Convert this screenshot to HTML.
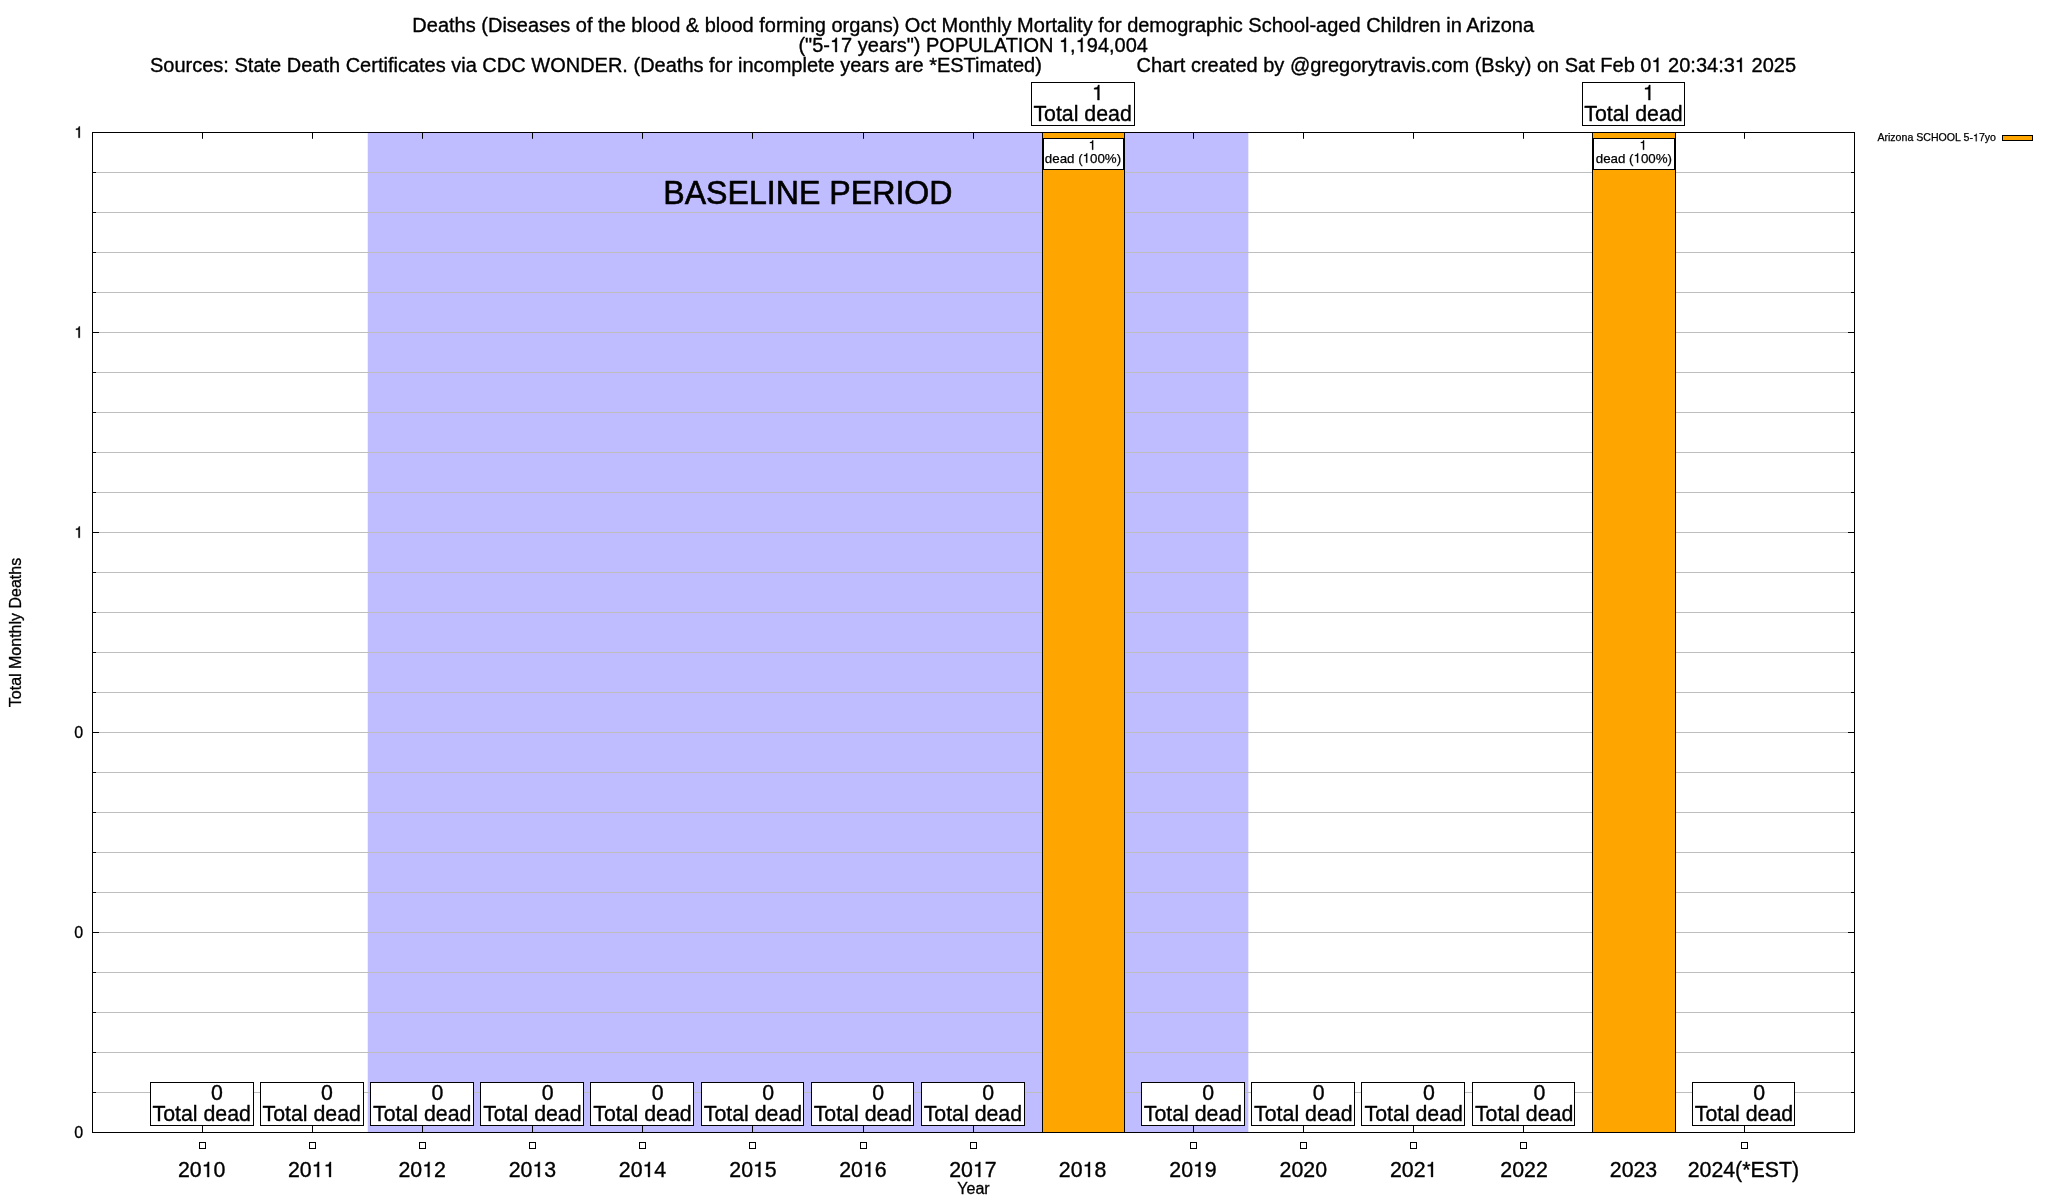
<!DOCTYPE html>
<html><head><meta charset="utf-8"><title>chart</title>
<style>html,body{margin:0;padding:0;background:#fff;}body{width:2048px;height:1200px;overflow:hidden;}svg{display:block;will-change:transform;font-family:"Liberation Sans",sans-serif;fill:#000;}text{stroke:#000;stroke-linejoin:round;white-space:pre}.t{font-size:20px;stroke-width:0.35px}.k{font-size:21.33px;stroke-width:0.35px}.b{font-size:21.33px;stroke-width:0.35px}.i{font-size:13.33px;stroke-width:0.25px}.l{font-size:10.6px;stroke-width:0.25px}.a{font-size:16px;stroke-width:0.3px}.bp{font-size:32.15px;stroke-width:0.6px}.ln{stroke:#000;stroke-width:1;fill:none}.g{stroke:#bebebe;stroke-width:1;fill:none}.bx{fill:#fff;stroke:#000;stroke-width:1}</style></head><body>
<svg width="2048" height="1200" viewBox="0 0 2048 1200">
<defs><path id="one" stroke="#000" stroke-linejoin="round" d="M347 0H259V-505H102V-568C238 -585 258 -600 289 -709H347Z"/></defs>
<rect x="0" y="0" width="2048" height="1200" fill="#fff"/>
<rect x="367.75" y="132.5" width="880.60" height="1000.0" fill="#bfbdff"/>
<path class="g" d="M92.5 172.5H1854.5M92.5 212.5H1854.5M92.5 252.5H1854.5M92.5 292.5H1854.5M92.5 332.5H1854.5M92.5 372.5H1854.5M92.5 412.5H1854.5M92.5 452.5H1854.5M92.5 492.5H1854.5M92.5 532.5H1854.5M92.5 572.5H1854.5M92.5 612.5H1854.5M92.5 652.5H1854.5M92.5 692.5H1854.5M92.5 732.5H1854.5M92.5 772.5H1854.5M92.5 812.5H1854.5M92.5 852.5H1854.5M92.5 892.5H1854.5M92.5 932.5H1854.5M92.5 972.5H1854.5M92.5 1012.5H1854.5M92.5 1052.5H1854.5M92.5 1092.5H1854.5"/>
<text class="bp" text-anchor="middle" transform="translate(807.9 203.6) scale(1 1.035)">BASELINE PERIOD</text>
<rect x="1042.5" y="132.5" width="82.0" height="1000.0" fill="#ffa500" stroke="#000" stroke-width="1"/>
<rect x="1592.5" y="132.5" width="83.0" height="1000.0" fill="#ffa500" stroke="#000" stroke-width="1"/>
<path class="ln" d="M202.5 1132.5v-7M202.5 132.5v6.3M312.5 1132.5v-7M312.5 132.5v6.3M422.5 1132.5v-7M422.5 132.5v6.3M532.5 1132.5v-7M532.5 132.5v6.3M642.5 1132.5v-7M642.5 132.5v6.3M752.5 1132.5v-7M752.5 132.5v6.3M863.5 1132.5v-7M863.5 132.5v6.3M973.5 1132.5v-7M973.5 132.5v6.3M1193.5 1132.5v-7M1193.5 132.5v6.3M1303.5 1132.5v-7M1303.5 132.5v6.3M1413.5 1132.5v-7M1413.5 132.5v6.3M1523.5 1132.5v-7M1523.5 132.5v6.3M1744.5 1132.5v-7M1744.5 132.5v6.3M92.5 132.5h6.5M1854.5 132.5h-6.5M92.5 172.5h3.5M1854.5 172.5h-3.5M92.5 212.5h3.5M1854.5 212.5h-3.5M92.5 252.5h3.5M1854.5 252.5h-3.5M92.5 292.5h3.5M1854.5 292.5h-3.5M92.5 332.5h6.5M1854.5 332.5h-6.5M92.5 372.5h3.5M1854.5 372.5h-3.5M92.5 412.5h3.5M1854.5 412.5h-3.5M92.5 452.5h3.5M1854.5 452.5h-3.5M92.5 492.5h3.5M1854.5 492.5h-3.5M92.5 532.5h6.5M1854.5 532.5h-6.5M92.5 572.5h3.5M1854.5 572.5h-3.5M92.5 612.5h3.5M1854.5 612.5h-3.5M92.5 652.5h3.5M1854.5 652.5h-3.5M92.5 692.5h3.5M1854.5 692.5h-3.5M92.5 732.5h6.5M1854.5 732.5h-6.5M92.5 772.5h3.5M1854.5 772.5h-3.5M92.5 812.5h3.5M1854.5 812.5h-3.5M92.5 852.5h3.5M1854.5 852.5h-3.5M92.5 892.5h3.5M1854.5 892.5h-3.5M92.5 932.5h6.5M1854.5 932.5h-6.5M92.5 972.5h3.5M1854.5 972.5h-3.5M92.5 1012.5h3.5M1854.5 1012.5h-3.5M92.5 1052.5h3.5M1854.5 1052.5h-3.5M92.5 1092.5h3.5M1854.5 1092.5h-3.5M92.5 1132.5h6.5M1854.5 1132.5h-6.5"/>
<rect class="ln" x="92.5" y="132.5" width="1762.0" height="1000.0"/>
<rect class="bx" x="150.5" y="1082.5" width="103" height="43"/>
<text class="b" x="211.07" y="1100.10">0</text>
<text class="b" x="152.48" y="1120.80">Total dead</text>
<rect class="ln" x="199.5" y="1142.5" width="6" height="6"/>
<rect class="bx" x="260.5" y="1082.5" width="103" height="43"/>
<text class="b" x="321.07" y="1100.10">0</text>
<text class="b" x="262.48" y="1120.80">Total dead</text>
<rect class="ln" x="309.5" y="1142.5" width="6" height="6"/>
<rect class="bx" x="370.5" y="1082.5" width="103" height="43"/>
<text class="b" x="431.57" y="1100.10">0</text>
<text class="b" x="372.98" y="1120.80">Total dead</text>
<rect class="ln" x="419.5" y="1142.5" width="6" height="6"/>
<rect class="bx" x="480.5" y="1082.5" width="103" height="43"/>
<text class="b" x="541.77" y="1100.10">0</text>
<text class="b" x="483.18" y="1120.80">Total dead</text>
<rect class="ln" x="529.5" y="1142.5" width="6" height="6"/>
<rect class="bx" x="590.5" y="1082.5" width="103" height="43"/>
<text class="b" x="651.87" y="1100.10">0</text>
<text class="b" x="593.28" y="1120.80">Total dead</text>
<rect class="ln" x="639.5" y="1142.5" width="6" height="6"/>
<rect class="bx" x="701.5" y="1082.5" width="102" height="43"/>
<text class="b" x="762.37" y="1100.10">0</text>
<text class="b" x="703.78" y="1120.80">Total dead</text>
<rect class="ln" x="749.5" y="1142.5" width="6" height="6"/>
<rect class="bx" x="811.5" y="1082.5" width="102" height="43"/>
<text class="b" x="872.27" y="1100.10">0</text>
<text class="b" x="813.68" y="1120.80">Total dead</text>
<rect class="ln" x="860.5" y="1142.5" width="6" height="6"/>
<rect class="bx" x="921.5" y="1082.5" width="103" height="43"/>
<text class="b" x="982.27" y="1100.10">0</text>
<text class="b" x="923.68" y="1120.80">Total dead</text>
<rect class="ln" x="970.5" y="1142.5" width="6" height="6"/>
<rect class="bx" x="1031.5" y="82.5" width="103" height="43"/>
<use href="#one" transform="translate(1091.97 100.10) scale(0.02133)" stroke-width="16.4"/>
<text class="b" x="1033.38" y="120.80">Total dead</text>
<rect class="bx" x="1043.5" y="138.5" width="80.0" height="31"/>
<use href="#one" transform="translate(1088.59 149.80) scale(0.01333)" stroke-width="18.8"/>
<text class="i" x="1044.84" y="162.70">dead (</text>
<use href="#one" transform="translate(1082.63 162.70) scale(0.01333)" stroke-width="18.8"/>
<text class="i" x="1090.05" y="162.70">00%)</text>
<rect class="bx" x="1141.5" y="1082.5" width="103" height="43"/>
<text class="b" x="1202.37" y="1100.10">0</text>
<text class="b" x="1143.78" y="1120.80">Total dead</text>
<rect class="ln" x="1190.5" y="1142.5" width="6" height="6"/>
<rect class="bx" x="1251.5" y="1082.5" width="103" height="43"/>
<text class="b" x="1312.67" y="1100.10">0</text>
<text class="b" x="1254.08" y="1120.80">Total dead</text>
<rect class="ln" x="1300.5" y="1142.5" width="6" height="6"/>
<rect class="bx" x="1361.5" y="1082.5" width="103" height="43"/>
<text class="b" x="1423.07" y="1100.10">0</text>
<text class="b" x="1364.48" y="1120.80">Total dead</text>
<rect class="ln" x="1410.5" y="1142.5" width="6" height="6"/>
<rect class="bx" x="1472.5" y="1082.5" width="102" height="43"/>
<text class="b" x="1533.47" y="1100.10">0</text>
<text class="b" x="1474.88" y="1120.80">Total dead</text>
<rect class="ln" x="1520.5" y="1142.5" width="6" height="6"/>
<rect class="bx" x="1582.5" y="82.5" width="102" height="43"/>
<use href="#one" transform="translate(1642.87 100.10) scale(0.02133)" stroke-width="16.4"/>
<text class="b" x="1584.28" y="120.80">Total dead</text>
<rect class="bx" x="1593.5" y="138.5" width="81.0" height="31"/>
<use href="#one" transform="translate(1639.49 149.80) scale(0.01333)" stroke-width="18.8"/>
<text class="i" x="1595.74" y="162.70">dead (</text>
<use href="#one" transform="translate(1633.53 162.70) scale(0.01333)" stroke-width="18.8"/>
<text class="i" x="1640.95" y="162.70">00%)</text>
<rect class="bx" x="1692.5" y="1082.5" width="102" height="43"/>
<text class="b" x="1753.37" y="1100.10">0</text>
<text class="b" x="1694.78" y="1120.80">Total dead</text>
<rect class="ln" x="1741.5" y="1142.5" width="6" height="6"/>
<text class="k" x="177.97" y="1177.00">20</text>
<use href="#one" transform="translate(201.70 1177.00) scale(0.02133)" stroke-width="16.4"/>
<text class="k" x="213.56" y="1177.00">0</text>
<text class="k" x="287.97" y="1177.00">20</text>
<use href="#one" transform="translate(311.70 1177.00) scale(0.02133)" stroke-width="16.4"/>
<use href="#one" transform="translate(323.56 1177.00) scale(0.02133)" stroke-width="16.4"/>
<text class="k" x="398.47" y="1177.00">20</text>
<use href="#one" transform="translate(422.20 1177.00) scale(0.02133)" stroke-width="16.4"/>
<text class="k" x="434.06" y="1177.00">2</text>
<text class="k" x="508.67" y="1177.00">20</text>
<use href="#one" transform="translate(532.40 1177.00) scale(0.02133)" stroke-width="16.4"/>
<text class="k" x="544.26" y="1177.00">3</text>
<text class="k" x="618.77" y="1177.00">20</text>
<use href="#one" transform="translate(642.50 1177.00) scale(0.02133)" stroke-width="16.4"/>
<text class="k" x="654.36" y="1177.00">4</text>
<text class="k" x="729.27" y="1177.00">20</text>
<use href="#one" transform="translate(753.00 1177.00) scale(0.02133)" stroke-width="16.4"/>
<text class="k" x="764.86" y="1177.00">5</text>
<text class="k" x="839.17" y="1177.00">20</text>
<use href="#one" transform="translate(862.90 1177.00) scale(0.02133)" stroke-width="16.4"/>
<text class="k" x="874.76" y="1177.00">6</text>
<text class="k" x="949.17" y="1177.00">20</text>
<use href="#one" transform="translate(972.90 1177.00) scale(0.02133)" stroke-width="16.4"/>
<text class="k" x="984.76" y="1177.00">7</text>
<text class="k" x="1058.87" y="1177.00">20</text>
<use href="#one" transform="translate(1082.60 1177.00) scale(0.02133)" stroke-width="16.4"/>
<text class="k" x="1094.46" y="1177.00">8</text>
<text class="k" x="1169.27" y="1177.00">20</text>
<use href="#one" transform="translate(1193.00 1177.00) scale(0.02133)" stroke-width="16.4"/>
<text class="k" x="1204.86" y="1177.00">9</text>
<text class="k" x="1279.57" y="1177.00">2020</text>
<text class="k" x="1389.97" y="1177.00">202</text>
<use href="#one" transform="translate(1425.56 1177.00) scale(0.02133)" stroke-width="16.4"/>
<text class="k" x="1500.37" y="1177.00">2022</text>
<text class="k" x="1609.77" y="1177.00">2023</text>
<text class="k" x="1687.68" y="1177.00">2024(*EST)</text>
<use href="#one" transform="translate(74.30 137.80) scale(0.01600)" stroke-width="18.8"/>
<use href="#one" transform="translate(74.30 337.80) scale(0.01600)" stroke-width="18.8"/>
<use href="#one" transform="translate(74.30 537.80) scale(0.01600)" stroke-width="18.8"/>
<text class="a" x="74.30" y="737.80">0</text>
<text class="a" x="74.30" y="937.80">0</text>
<text class="a" x="74.30" y="1137.80">0</text>
<text class="a" x="957.34" y="1194.00">Year</text>
<text class="a" text-anchor="middle" transform="translate(21.3 632.5) rotate(-90)">Total Monthly Deaths</text>
<text class="t" x="412.36" y="32.00">Deaths (Diseases of the blood &amp; blood forming organs) Oct Monthly Mortality for demographic School-aged Children in Arizona</text>
<text class="t" x="798.43" y="52.00">(&quot;5-</text>
<use href="#one" transform="translate(829.98 52.00) scale(0.02000)" stroke-width="17.5"/>
<text class="t" x="841.10" y="52.00">7 years&quot;) POPULATION</text>
<use href="#one" transform="translate(1058.99 52.00) scale(0.02000)" stroke-width="17.5"/>
<text class="t" x="1070.11" y="52.00">,</text>
<use href="#one" transform="translate(1075.67 52.00) scale(0.02000)" stroke-width="17.5"/>
<text class="t" x="1086.80" y="52.00">94,004</text>
<text class="t" x="150.00" y="72.00">Sources: State Death Certificates via CDC WONDER. (Deaths for incomplete years are *ESTimated)</text>
<text class="t" x="1136.50" y="72.00">Chart created by @gregorytravis.com (Bsky) on Sat Feb 0</text>
<use href="#one" transform="translate(1651.44 72.00) scale(0.02000)" stroke-width="17.5"/>
<text class="t" x="1668.12" y="72.00">20:34:3</text>
<use href="#one" transform="translate(1734.85 72.00) scale(0.02000)" stroke-width="17.5"/>
<text class="t" x="1751.53" y="72.00">2025</text>
<text class="l" x="1877.39" y="141.30">Arizona SCHOOL 5-</text>
<use href="#one" transform="translate(1973.01 141.30) scale(0.01060)" stroke-width="23.6"/>
<text class="l" x="1978.91" y="141.30">7yo</text>
<rect x="2002.5" y="135.5" width="30" height="5" fill="#ffa500" stroke="#000" stroke-width="1"/>
</svg></body></html>
